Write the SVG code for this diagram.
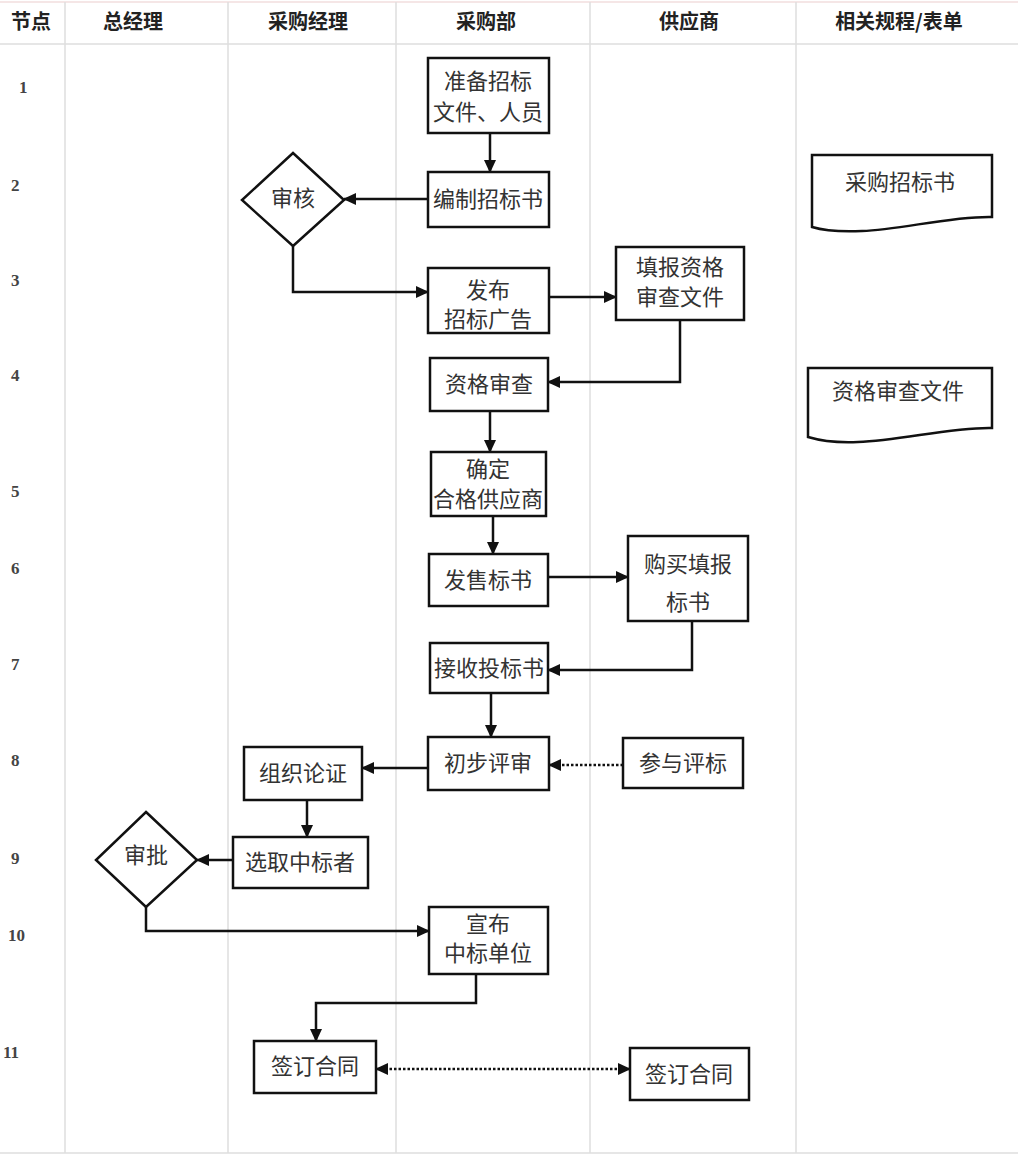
<svg xmlns="http://www.w3.org/2000/svg" width="1018" height="1158" viewBox="0 0 1018 1158">
<style>
.grid{stroke:#dedede;stroke-width:1.5;fill:none}
.hd{font-family:"Noto Sans CJK SC","Noto Sans",sans-serif;font-size:20px;font-weight:bold;fill:#222;text-anchor:middle}
.num{font-family:"Liberation Serif","DejaVu Serif",serif;font-size:17px;font-weight:bold;fill:#444}
.box{fill:#fff;stroke:#111;stroke-width:2.5}
.t{font-family:"Noto Sans CJK SC","Noto Sans",sans-serif;font-size:22px;fill:#333;text-anchor:middle}
.c{fill:none;stroke:#111;stroke-width:2.5}
.d{stroke-dasharray:2.5,2}
</style>
<defs>
<marker id="arr" markerUnits="userSpaceOnUse" markerWidth="14" markerHeight="14" refX="12" refY="6" orient="auto-start-reverse">
<path d="M0,0 L13,6 L0,12 z" fill="#111"/>
</marker>
</defs>
<rect x="0" y="0" width="1018" height="1158" fill="#fff"/>
<g id="grid">
<line class="grid" x1="0" y1="2" x2="1018" y2="2" style="stroke:#f2dede"/>
<line class="grid" x1="0" y1="44" x2="1018" y2="44"/>
<line class="grid" x1="0" y1="1153" x2="1018" y2="1153"/>
<line class="grid" x1="65" y1="2" x2="65" y2="1153"/>
<line class="grid" x1="228" y1="2" x2="228" y2="1153"/>
<line class="grid" x1="396" y1="2" x2="396" y2="1153"/>
<line class="grid" x1="590" y1="2" x2="590" y2="1153"/>
<line class="grid" x1="796" y1="2" x2="796" y2="1153"/>
</g>
<g id="header">
<text class="hd" x="31" y="29">节点</text>
<text class="hd" x="133" y="29">总经理</text>
<text class="hd" x="308" y="29">采购经理</text>
<text class="hd" x="486" y="29">采购部</text>
<text class="hd" x="689" y="29">供应商</text>
<text class="hd" x="899" y="29">相关规程/表单</text>
</g>
<g id="rownums">
<text class="num" x="19" y="93">1</text>
<text class="num" x="11" y="191">2</text>
<text class="num" x="11" y="286">3</text>
<text class="num" x="11" y="381">4</text>
<text class="num" x="11" y="497">5</text>
<text class="num" x="11" y="574">6</text>
<text class="num" x="11" y="670">7</text>
<text class="num" x="11" y="766">8</text>
<text class="num" x="11" y="864">9</text>
<text class="num" x="8" y="941">10</text>
<text class="num" x="3" y="1058">11</text>
</g>
<g id="connectors">
<path class="c" d="M490,133 V172" marker-end="url(#arr)"/>
<path class="c" d="M428,199 H344" marker-end="url(#arr)"/>
<path class="c" d="M293,246 V292 H428" marker-end="url(#arr)"/>
<path class="c" d="M549,297 H616" marker-end="url(#arr)"/>
<path class="c" d="M680,320 V382 H548" marker-end="url(#arr)"/>
<path class="c" d="M490,411 V452" marker-end="url(#arr)"/>
<path class="c" d="M493,516 V554" marker-end="url(#arr)"/>
<path class="c" d="M548,577 H628" marker-end="url(#arr)"/>
<path class="c" d="M692,621 V670 H548" marker-end="url(#arr)"/>
<path class="c" d="M491,693 V737" marker-end="url(#arr)"/>
<path class="c d" d="M623,765 H549" marker-end="url(#arr)"/>
<path class="c" d="M428,768 H362" marker-end="url(#arr)"/>
<path class="c" d="M307,800 V837" marker-end="url(#arr)"/>
<path class="c" d="M233,860 H197" marker-end="url(#arr)"/>
<path class="c" d="M146,907 V931 H429" marker-end="url(#arr)"/>
<path class="c" d="M476,974 V1003 H316 V1041" marker-end="url(#arr)"/>
<path class="c d" d="M376,1069 H630" marker-start="url(#arr)" marker-end="url(#arr)"/>
</g>
<g id="n1"><rect class="box" x="428" y="58" width="121" height="75"/><text class="t" x="488" y="89">准备招标</text><text class="t" x="488" y="120">文件、人员</text></g>
<g id="n2"><rect class="box" x="428" y="172" width="121" height="55"/><text class="t" x="488" y="207">编制招标书</text></g>
<g id="n3"><path class="box" d="M293,153 L344,200 L293,246 L242,200 Z"/><text class="t" x="293" y="206">审核</text></g>
<g id="n4"><rect class="box" x="428" y="268" width="121" height="65"/><text class="t" x="488" y="298">发布</text><text class="t" x="488" y="327">招标广告</text></g>
<g id="n5"><rect class="box" x="616" y="247" width="128" height="73"/><text class="t" x="680" y="275">填报资格</text><text class="t" x="680" y="305">审查文件</text></g>
<g id="n6"><rect class="box" x="430" y="358" width="118" height="53"/><text class="t" x="489" y="392">资格审查</text></g>
<g id="n7"><rect class="box" x="431" y="452" width="115" height="64"/><text class="t" x="488" y="477">确定</text><text class="t" x="488" y="507">合格供应商</text></g>
<g id="n8"><rect class="box" x="429" y="554" width="119" height="52"/><text class="t" x="488" y="588">发售标书</text></g>
<g id="n9"><rect class="box" x="628" y="536" width="120" height="85"/><text class="t" x="688" y="572">购买填报</text><text class="t" x="688" y="610">标书</text></g>
<g id="n10"><rect class="box" x="430" y="643" width="118" height="50"/><text class="t" x="489" y="676">接收投标书</text></g>
<g id="n11"><rect class="box" x="428" y="737" width="121" height="53"/><text class="t" x="488" y="771">初步评审</text></g>
<g id="n12"><rect class="box" x="623" y="738" width="120" height="50"/><text class="t" x="683" y="771">参与评标</text></g>
<g id="n13"><rect class="box" x="244" y="747" width="118" height="53"/><text class="t" x="303" y="781">组织论证</text></g>
<g id="n14"><rect class="box" x="233" y="837" width="135" height="51"/><text class="t" x="300" y="870">选取中标者</text></g>
<g id="n15"><path class="box" d="M146,812 L197,860 L146,907 L96,860 Z"/><text class="t" x="146" y="863">审批</text></g>
<g id="n16"><rect class="box" x="429" y="907" width="119" height="67"/><text class="t" x="488" y="932">宣布</text><text class="t" x="488" y="961">中标单位</text></g>
<g id="n17"><rect class="box" x="254" y="1041" width="122" height="52"/><text class="t" x="315" y="1074">签订合同</text></g>
<g id="n18"><rect class="box" x="630" y="1048" width="119" height="52"/><text class="t" x="689" y="1082">签订合同</text></g>
<g id="doc1"><path class="box" d="M812,155 H992 V217 C950,216 900,230 862,231 C840,232 822,230 812,227 Z"/><text class="t" x="900" y="190">采购招标书</text></g>
<g id="doc2"><path class="box" d="M808,368 H992 V428 C950,427 900,441 858,442 C836,443 818,440 808,437 Z"/><text class="t" x="898" y="399">资格审查文件</text></g>
</svg>
